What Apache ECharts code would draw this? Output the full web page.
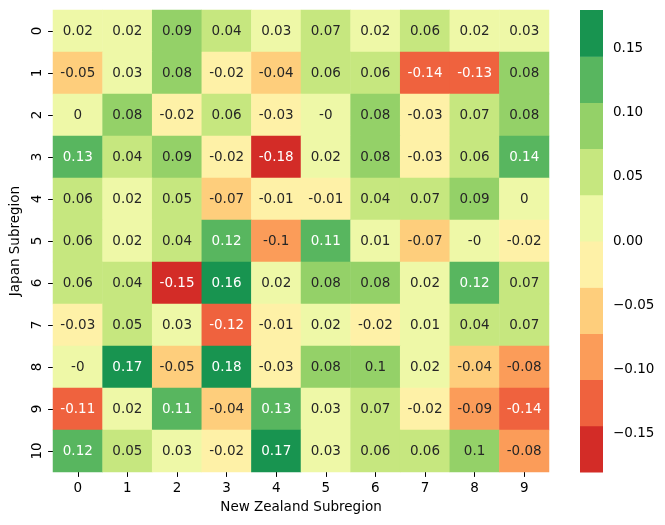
<!DOCTYPE html>
<html>
<head>
<meta charset="utf-8">
<script src="https://cdn.jsdelivr.net/npm/echarts@6/dist/echarts.min.js"></script>
<style>
html,body{margin:0;padding:0;background:#fff;}
#chart{width:665px;height:525px;}
</style>
</head>
<body>
<div id="chart"></div>
<script>
const colLabels = ['0','1','2','3','4','5','6','7','8','9'];
const rowLabels = ['0','1','2','3','4','5','6','7','8','9','10'];
const values = [
  [0.02, 0.02, 0.09, 0.04, 0.03, 0.07, 0.02, 0.06, 0.02, 0.03],
  [-0.05, 0.03, 0.08, -0.02, -0.04, 0.06, 0.06, -0.14, -0.13, 0.08],
  [0, 0.08, -0.02, 0.06, -0.03, -0, 0.08, -0.03, 0.07, 0.08],
  [0.13, 0.04, 0.09, -0.02, -0.18, 0.02, 0.08, -0.03, 0.06, 0.14],
  [0.06, 0.02, 0.05, -0.07, -0.01, -0.01, 0.04, 0.07, 0.09, 0],
  [0.06, 0.02, 0.04, 0.12, -0.1, 0.11, 0.01, -0.07, -0, -0.02],
  [0.06, 0.04, -0.15, 0.16, 0.02, 0.08, 0.08, 0.02, 0.12, 0.07],
  [-0.03, 0.05, 0.03, -0.12, -0.01, 0.02, -0.02, 0.01, 0.04, 0.07],
  [-0, 0.17, -0.05, 0.18, -0.03, 0.08, 0.1, 0.02, -0.04, -0.08],
  [-0.11, 0.02, 0.11, -0.04, 0.13, 0.03, 0.07, -0.02, -0.09, -0.14],
  [0.12, 0.05, 0.03, -0.02, 0.17, 0.03, 0.06, 0.06, 0.1, -0.08]
];
const cbTicks = [-0.15, -0.1, -0.05, 0, 0.05, 0.1, 0.15];
const vmin = -0.18, vmax = 0.18;
const palette = ['#d32c27','#ef623e','#fb9c59','#fece7c','#fef1a7','#eef8a7','#c6e77f','#94d168','#58b65f','#189450'];

const nBins = palette.length;
const step = (vmax - vmin) / nBins;
function binIndex(v){
  return Math.min(nBins-1, Math.max(0, Math.floor((v - vmin) / (vmax - vmin) * nBins)));
}
function lum(hex){
  const c = [1,3,5].map(i => parseInt(hex.substr(i,2),16)/255)
    .map(x => x <= 0.03928 ? x/12.92 : Math.pow((x+0.055)/1.055, 2.4));
  return 0.2126*c[0] + 0.7152*c[1] + 0.0722*c[2];
}
function fmtCell(v){
  if (Object.is(v, -0)) return '-0';
  return String(v);
}
const heatData = [];
values.forEach((row, ri) => {
  row.forEach((v, ci) => {
    const col = palette[binIndex(v)];
    heatData.push({
      value: [ci, ri, v],
      itemStyle: {color: col},
      label: {color: lum(col) > 0.408 ? '#262626' : '#ffffff'}
    });
  });
});
const cbData = palette.map((c, i) => [vmin + i*step, vmin + (i+1)*step, i]);

const FONT = 'DejaVu Sans';
const chart = echarts.init(document.getElementById('chart'), null, {renderer: 'canvas'});
chart.setOption({
  animation: false,
  backgroundColor: '#ffffff',
  textStyle: {fontFamily: FONT},
  grid: [
    {left: 53, top: 10, width: 496, height: 462},
    {left: 580, top: 10, width: 23, height: 462}
  ],
  xAxis: [
    {
      type: 'category', gridIndex: 0, data: colLabels, position: 'bottom',
      axisLine: {show: false},
      axisTick: {show: true, alignWithLabel: true, length: 4.9, lineStyle: {color: '#000', width: 1}},
      axisLabel: {fontFamily: FONT, fontSize: 13.5, color: '#000', margin: 9},
      splitLine: {show: false},
      name: 'New Zealand Subregion', nameLocation: 'middle', nameGap: 28,
      nameTextStyle: {fontFamily: FONT, fontSize: 13.5, color: '#000'}
    },
    {type: 'value', gridIndex: 1, min: 0, max: 1, show: false}
  ],
  yAxis: [
    {
      type: 'category', gridIndex: 0, data: rowLabels, inverse: true,
      axisLine: {show: false},
      axisTick: {show: true, alignWithLabel: true, length: 4.9, lineStyle: {color: '#000', width: 1}},
      axisLabel: {fontFamily: FONT, fontSize: 13.5, color: '#000', margin: 9, rotate: 90},
      splitLine: {show: false},
      name: 'Japan Subregion', nameLocation: 'middle', nameGap: 28, nameRotate: 90,
      nameTextStyle: {fontFamily: FONT, fontSize: 13.5, color: '#000'}
    },
    {
      type: 'value', gridIndex: 1, min: vmin, max: vmax, position: 'right',
      axisLine: {show: false},
      splitLine: {show: false},
      axisTick: {show: true, length: 4.9, customValues: cbTicks, lineStyle: {color: '#000', width: 1}},
      axisLabel: {
        fontFamily: FONT, fontSize: 13.5, color: '#000', margin: 10,
        customValues: cbTicks,
        formatter: v => v.toFixed(2).replace('-', '\u2212')
      }
    }
  ],
  series: [
    {
      type: 'heatmap', xAxisIndex: 0, yAxisIndex: 0,
      data: heatData,
      label: {
        show: true, fontFamily: FONT, fontSize: 13.5,
        formatter: p => fmtCell(values[p.value[1]][p.value[0]])
      },
      emphasis: {disabled: true}
    },
    {
      type: 'custom', xAxisIndex: 1, yAxisIndex: 1,
      data: cbData,
      renderItem: (params, api) => {
        const lo = api.coord([0, api.value(0)]);
        const hi = api.coord([1, api.value(1)]);
        return {
          type: 'rect',
          shape: {x: lo[0], y: hi[1], width: hi[0] - lo[0], height: lo[1] - hi[1] + 0.5},
          style: {fill: palette[api.value(2)]}
        };
      },
      silent: true
    }
  ]
});
</script>
</body>
</html>
